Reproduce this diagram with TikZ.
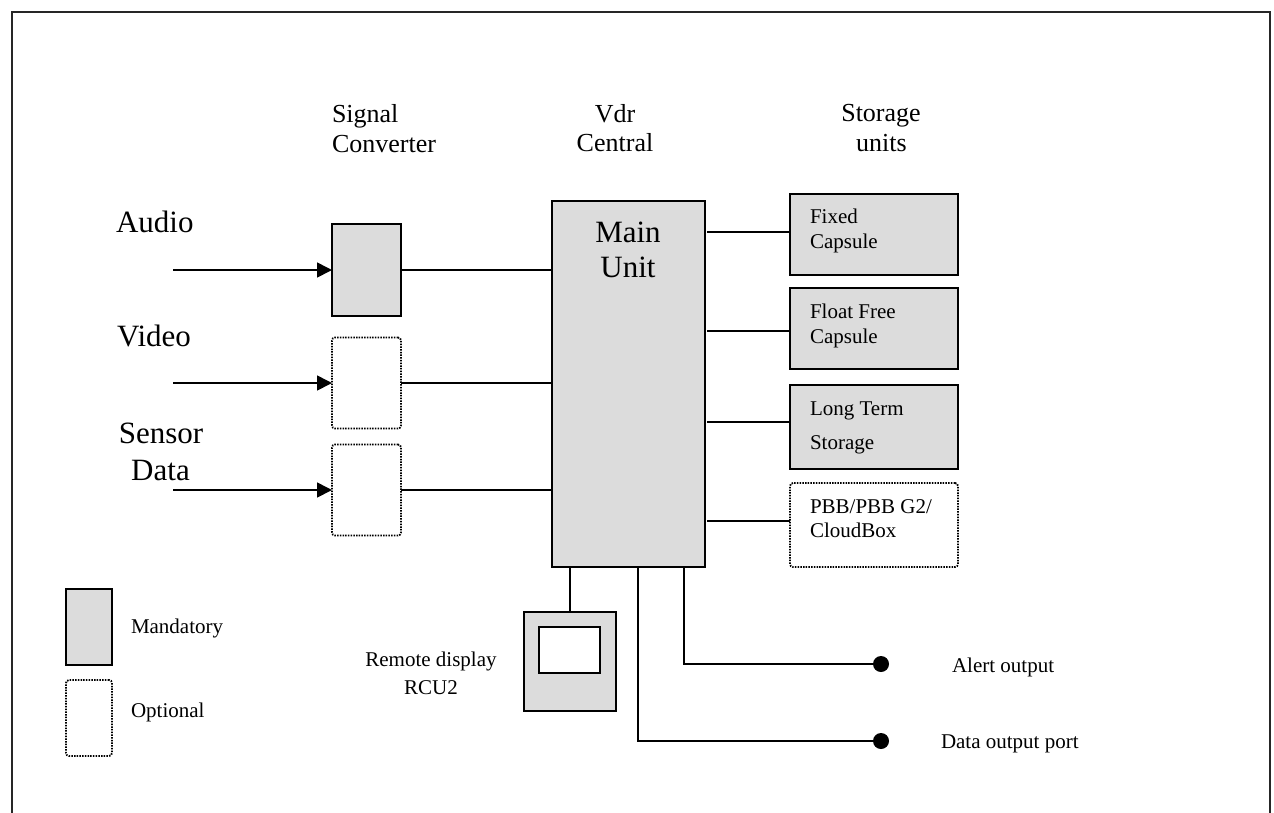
\documentclass[tikz,border=0pt]{standalone}
\usepackage{fontspec}
\setmainfont{Liberation Serif}
\usetikzlibrary{arrows.meta}
\newcommand\myBig{\fontsize{31}{35}\selectfont}
\newcommand\myMid{\fontsize{26}{29}\selectfont}
\newcommand\mySmall{\fontsize{21}{25}\selectfont}
\definecolor{boxgray}{HTML}{DCDCDC}
\tikzset{
  wire/.style={line width=1.7pt,black},
  inarrow/.style={wire,-{Triangle[length=15pt,width=15pt]}},
  mandbox/.style={draw=black,line width=1.7pt,fill=boxgray,rectangle,inner sep=0pt,outer sep=0pt},
  optbox/.style={draw=black,line width=1.8pt,dash pattern=on 1.5pt off 1.2pt,rounded corners=3pt,fill=white,rectangle,inner sep=0pt,outer sep=0pt},
  txt/.style={inner sep=0pt,outer sep=0pt},
  dot/.style={circle,fill=black,draw=none,minimum size=16pt,inner sep=0pt,outer sep=0pt}
}
\begin{document}
\begin{tikzpicture}[x=1pt,y=-1pt]
\useasboundingbox (0,0) rectangle (1274,812);
% frame
\draw[line width=1.8pt,black!85] (12,816) -- (12,12) -- (1270,12) -- (1270,816);

% column titles
\node[txt,anchor=base west] (sig1) at (332,122) {\myMid Signal};
\node[txt,anchor=base west] (sig2) at (332,152) {\myMid Converter};
\node[txt,anchor=base] (vdr1) at (615,122) {\myMid Vdr};
\node[txt,anchor=base] (vdr2) at (615,151) {\myMid Central};
\node[txt,anchor=base] (sto1) at (881,121) {\myMid Storage};
\node[txt,anchor=base] (sto2) at (881.5,151) {\myMid units};

% input labels
\node[txt,anchor=base west] (laudio) at (116,232) {\myBig Audio};
\node[txt,anchor=base west] (lvideo) at (117,346) {\myBig Video};
\node[txt,anchor=base] (lsens1) at (161,443) {\myBig Sensor};
\node[txt,anchor=base] (lsens2) at (160.5,480) {\myBig Data};

% signal converter boxes
\node[mandbox,minimum width=69pt,minimum height=92pt] (conv1) at (366.5,270) {};
\node[optbox,minimum width=69pt,minimum height=91pt] (conv2) at (366.5,383) {};
\node[optbox,minimum width=69pt,minimum height=91pt] (conv3) at (366.5,490) {};

% input arrow start points
\coordinate (in1) at (173,270);
\coordinate (in2) at (173,383);
\coordinate (in3) at (173,490);

% main unit
\node[mandbox,minimum width=153pt,minimum height=366pt] (main) at (628.5,384) {};
\node[txt,anchor=base] (mainA) at (628,242) {\myBig Main};
\node[txt,anchor=base] (mainB) at (628,277) {\myBig Unit};

% storage units
\node[mandbox,minimum width=168pt,minimum height=81pt] (fixed) at (874,234.5) {};
\node[mandbox,minimum width=168pt,minimum height=81pt] (float) at (874,328.5) {};
\node[mandbox,minimum width=168pt,minimum height=84pt] (lts) at (874,427) {};
\node[optbox,minimum width=168pt,minimum height=84pt] (pbb) at (874,525) {};
\node[txt,anchor=base west] (fx1) at (810,223) {\mySmall Fixed};
\node[txt,anchor=base west] (fx2) at (810,248) {\mySmall Capsule};
\node[txt,anchor=base west] (ff1) at (810,318) {\mySmall Float Free};
\node[txt,anchor=base west] (ff2) at (810,343) {\mySmall Capsule};
\node[txt,anchor=base west] (lt1) at (810,415) {\mySmall Long Term};
\node[txt,anchor=base west] (lt2) at (810,449) {\mySmall Storage};
\node[txt,anchor=base west] (pb1) at (810,513) {\mySmall PBB/PBB G2/};
\node[txt,anchor=base west] (pb2) at (810,537) {\mySmall CloudBox};

% remote display
\node[mandbox,minimum width=92pt,minimum height=99pt] (rcu) at (570,661.5) {};
\node[draw=black,line width=1.7pt,fill=white,rectangle,inner sep=0pt,minimum width=61pt,minimum height=46pt] (screen) at (569.5,650) {};
\node[txt,anchor=base] (rd1) at (431,666.5) {\mySmall Remote display};
\node[txt,anchor=base] (rd2) at (431,694) {\mySmall RCU2};

% outputs
\node[dot] (alertdot) at (881,664) {};
\node[dot] (datadot) at (881,741) {};
\node[txt,anchor=base west] (alert) at (952,672) {\mySmall Alert output};
\node[txt,anchor=base west] (dataout) at (941,748) {\mySmall Data output port};

% legend
\node[mandbox,minimum width=46pt,minimum height=76pt] (legm) at (89,627) {};
\node[optbox,minimum width=46pt,minimum height=76pt] (lego) at (89,718) {};
\node[txt,anchor=base west] (legmt) at (131,633) {\mySmall Mandatory};
\node[txt,anchor=base west] (legot) at (131,717) {\mySmall Optional};

% connectors: inputs
\draw[inarrow] (in1) -- (conv1.west);
\draw[inarrow] (in2) -- (conv2.west);
\draw[inarrow] (in3) -- (conv3.west);
\draw[wire] (conv1.east) -- (conv1.east -| main.west);
\draw[wire] (conv2.east) -- (conv2.east -| main.west);
\draw[wire] (conv3.east) -- (conv3.east -| main.west);

% connectors: storage
\draw[wire] ([yshift=2.5pt]fixed.west) -- ([yshift=2.5pt,xshift=2pt]fixed.west -| main.east);
\draw[wire] ([yshift=-2.5pt]float.west) -- ([yshift=-2.5pt,xshift=2pt]float.west -| main.east);
\draw[wire] ([yshift=5pt]lts.west) -- ([yshift=5pt,xshift=2pt]lts.west -| main.east);
\draw[wire] ([yshift=4pt]pbb.west) -- ([yshift=4pt,xshift=2pt]pbb.west -| main.east);

% connectors: bottom
\draw[wire] (rcu.north) -- (rcu.north |- main.south);
\draw[wire] ([xshift=55.5pt]main.south) -- ([xshift=55.5pt]main.south |- alertdot) -- (alertdot);
\draw[wire] ([xshift=9.5pt]main.south) -- ([xshift=9.5pt]main.south |- datadot) -- (datadot);
\end{tikzpicture}
\end{document}
